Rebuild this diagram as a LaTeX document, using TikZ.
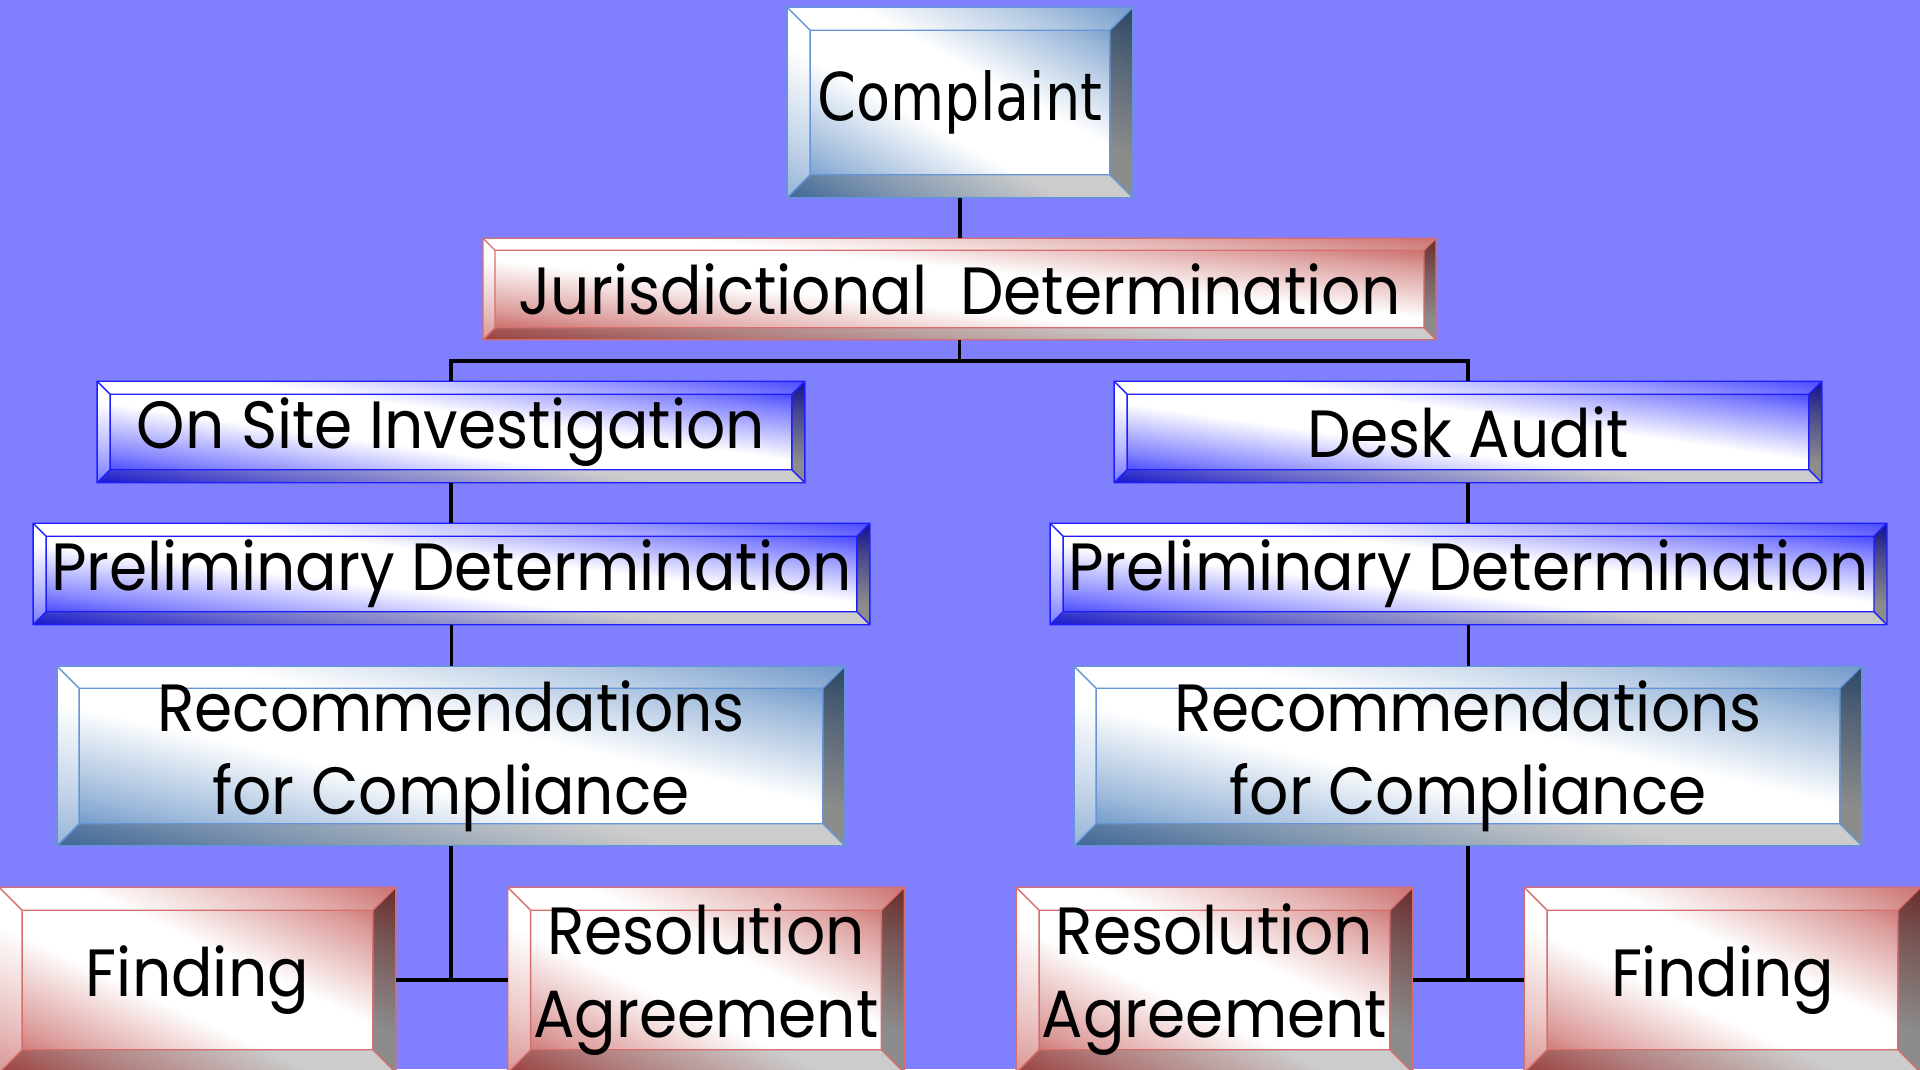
\documentclass[tikz,border=0pt]{standalone}
\usepackage{fontspec}
\usepackage{graphicx}
\setmainfont{Poppins}
\newfontfamily\tahoma{DejaVu Sans Condensed}
\usetikzlibrary{calc}
\pgfdeclarelayer{bg}
\pgfsetlayers{bg,main}

\definecolor{sky}{RGB}{128,128,255}
\definecolor{steel}{RGB}{79,129,189}
\definecolor{steelline}{RGB}{100,150,215}
\definecolor{brick}{RGB}{192,80,77}
\definecolor{brickline}{RGB}{215,110,110}
\definecolor{royal}{RGB}{30,30,255}

% colour at both ends, white band in the middle
\newcommand\glint[1]{\pgfdeclarehorizontalshading{glint#1}{100bp}{color(0bp)=(#1); color(25bp)=(#1);
  color(33bp)=(#1!55!white); color(45bp)=(white); color(55bp)=(white);
  color(67bp)=(#1!55!white); color(75bp)=(#1); color(100bp)=(#1)}}
\glint{steel}\glint{brick}\glint{royal}

\newcommand\squeeze[1]{\scalebox{0.92}[1]{#1}}

% bevelled panel behind node #1, depth #2, shade #3, edge #4
\newcommand\bevelbox[4]{%
\begin{pgfonlayer}{bg}
\coordinate (nw) at (#1.north west);
\coordinate (ne) at (#1.north east);
\coordinate (se) at (#1.south east);
\coordinate (sw) at (#1.south west);
\coordinate (inw) at ($(nw)+(#2,#2)$);
\coordinate (ine) at ($(ne)+(-#2,#2)$);
\coordinate (ise) at ($(se)+(-#2,-#2)$);
\coordinate (isw) at ($(sw)+(#2,-#2)$);
\path let \p1=($(se)-(nw)$) in \pgfextra{\xdef\boxw{\x1}\xdef\boxh{\y1}};
\begin{scope}
\clip (nw) rectangle (se);
\shade[transform canvas={shift={(#1.center)},xscale={\boxw/56.905pt},yscale={-\boxh/56.905pt},rotate=45},
  shading=glint#3] (-1.4142cm,-3cm) rectangle (1.4142cm,3cm);
\end{scope}
\fill[white,opacity=.2] (nw) -- (ne) -- (ine) -- (inw) -- cycle;
\fill[white,opacity=.4] (nw) -- (inw) -- (isw) -- (sw) -- cycle;
\fill[black,opacity=.45] (ne) -- (se) -- (ise) -- (ine) -- cycle;
\fill[black,opacity=.2] (sw) -- (isw) -- (ise) -- (se) -- cycle;
\draw[#4,line width=0.4pt] (nw) rectangle (se) (inw) rectangle (ise)
  (nw) -- (inw) (ne) -- (ine) (se) -- (ise) (sw) -- (isw);
\end{pgfonlayer}}

\begin{document}
\begin{tikzpicture}[x=0.01cm,y=-0.01cm,
  box/.style={inner sep=0pt,align=center,font=\fontsize{19}{23.6}\selectfont},
  link/.style={line width=1.1pt}]
\begin{pgfonlayer}{bg}
\fill[sky] (0,0) rectangle (1920,1069);
\end{pgfonlayer}
\useasboundingbox (0,0) rectangle (1920,1069);

\node[box,minimum width=3.44cm,minimum height=1.89cm,font=\tahoma\fontsize{18.7}{22}\selectfont] (complaint) at (960,102.5) {\scalebox{0.94}[1]{Complaint}};
\node[box,minimum width=9.51cm,minimum height=1cm] (juris) at (959.5,289) {\squeeze{Jurisdictional~~Determination}};

\node[box,minimum width=7.06cm,minimum height=1cm] (onsite) at (451,432) {\squeeze{On Site Investigation}};
\node[box,minimum width=7.06cm,minimum height=1cm] (desk) at (1468,432) {\squeeze{Desk Audit}};
\node[box,minimum width=8.35cm,minimum height=1cm] (prelL) at (451.5,574) {\squeeze{Preliminary Determination}};
\node[box,minimum width=8.35cm,minimum height=1cm] (prelR) at (1468.5,574) {\squeeze{Preliminary Determination}};
\node[box,minimum width=7.86cm,minimum height=1.78cm] (recL) at (451,756) {\squeeze{Recommendations}\\\squeeze{for Compliance}};
\node[box,minimum width=7.86cm,minimum height=1.78cm] (recR) at (1468,756) {\squeeze{Recommendations}\\\squeeze{for Compliance}};

\node[box,minimum width=3.95cm,minimum height=1.84cm] (findL) at (197.5,980) {\raisebox{0.13cm}{\squeeze{Finding}}};
\node[box,minimum width=3.95cm,minimum height=1.84cm] (resL) at (706,980) {\squeeze{Resolution}\\\squeeze{Agreement}};
\node[box,minimum width=3.95cm,minimum height=1.84cm] (resR) at (1214.5,980) {\squeeze{Resolution}\\\squeeze{Agreement}};
\node[box,minimum width=3.95cm,minimum height=1.84cm] (findR) at (1722.5,980) {\squeeze{Finding}};

\bevelbox{complaint}{23}{steel}{steelline}
\bevelbox{juris}{12}{brick}{brickline}
\bevelbox{onsite}{13}{royal}{royal}
\bevelbox{desk}{13}{royal}{royal}
\bevelbox{prelL}{13}{royal}{royal}
\bevelbox{prelR}{13}{royal}{royal}
\bevelbox{recL}{22}{steel}{steelline}
\bevelbox{recR}{22}{steel}{steelline}
\bevelbox{findL}{23}{brick}{brickline}
\bevelbox{resL}{23}{brick}{brickline}
\bevelbox{resR}{23}{brick}{brickline}
\bevelbox{findR}{23}{brick}{brickline}

\coordinate (split) at ($(juris.south)+(0,21)$);
\draw[link] (complaint.south) -- (complaint.south |- juris.north);
\draw[link] (juris.south) -- (split) -| (onsite.north);
\draw[link] (split) -| (desk.north);

\draw[link] (onsite.south) -- (onsite.south |- prelL.north);
\draw[link] (prelL.south) -- (prelL.south |- recL.north);
\draw[link] (recL.south) |- (findL.east);
\draw[link] (recL.south) |- (resL.west);

\draw[link] (desk.south) -- (desk.south |- prelR.north);
\draw[link] (prelR.south) -- (prelR.south |- recR.north);
\draw[link] (recR.south) |- (resR.east);
\draw[link] (recR.south) |- (findR.west);
\end{tikzpicture}
\end{document}
